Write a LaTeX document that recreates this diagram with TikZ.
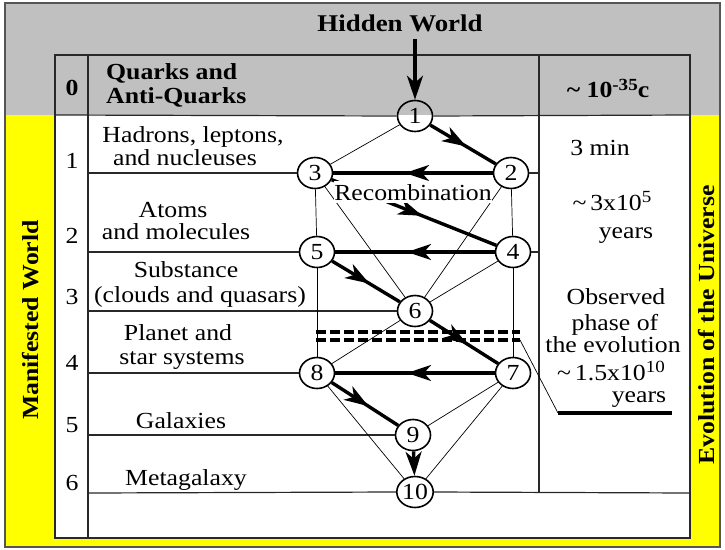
\documentclass[tikz,border=0pt]{standalone}
\usepackage{fontspec}
\setmainfont{Liberation Serif}[FakeStretch=1.12]
\usetikzlibrary{shapes.geometric,arrows.meta,decorations.markings}
\definecolor{bggray}{RGB}{192,192,192}
\definecolor{ylw}{RGB}{255,255,0}
\definecolor{frame}{RGB}{85,85,85}
\definecolor{grid}{RGB}{40,40,40}
\tikzset{
  txt/.style={anchor=base,inner sep=0pt,font=\fontsize{23}{26}\selectfont},
  hd/.style={anchor=base,inner sep=0pt,font=\fontsize{23}{26}\selectfont\bfseries},
  num/.style={draw=black,line width=1.6pt,ellipse,minimum width=35pt,minimum height=31pt,inner sep=0pt,font=\fontsize{23}{23}\selectfont},
  thin/.style={line width=0.7pt,black},
  gridline/.style={line width=1.2pt,grid},
  bigtip/.tip={Stealth[length=24pt,width=16pt,inset=7pt]},
  flow/.style={line width=3.4pt,black,postaction={decorate},
    decoration={markings,mark=at position 0.55 with {\arrow{bigtip}}}},
}
\begin{document}
\begin{tikzpicture}[x=1pt,y=-1pt]
\useasboundingbox (0,0) rectangle (725,549);
% backgrounds
\fill[ylw] (5,3) rectangle (720,547);
\fill[bggray] (5,3) rectangle (720,115);
\fill[white] (55,115) rectangle (690,538);
\draw[frame,line width=2.2pt] (5,3) rectangle (720,547);
% nodes
\node[num] (n1) at (415,116) {1};
\node[num] (n2) at (511,173) {2};
\node[num] (n3) at (315,173) {3};
\node[num] (n4) at (513,252) {4};
\node[num] (n5) at (317,252) {5};
\node[num] (n6) at (415,311) {6};
\node[num] (n7) at (513,373) {7};
\node[num] (n8) at (317,373) {8};
\node[num] (n9) at (413,435) {9};
\node[num] (n10) at (415,492) {10};
% table frame
\coordinate (tl) at (55,55);
\coordinate (br) at (690,538);
\draw[gridline] (tl) rectangle (br);
\draw[gridline] (88,55) -- (88,538);
\draw[gridline] (539,55) -- (539,493);
\draw[gridline] (55,115) -- (n1.west);
\draw[gridline] (n1.east) -- (690,115);
\draw[gridline] (88,173) -- (n3.west);
\draw[gridline] (n2.east) -- (539,173);
\draw[gridline] (88,252) -- (n5.west);
\draw[gridline] (n4.east) -- (539,252);
\draw[gridline] (88,311) -- (n6.west);
\draw[gridline] (88,373) -- (n8.west);
\draw[gridline] (88,435) -- (n9.west);
\draw[gridline] (88,493) -- (n10.west);
\draw[gridline] (n10.east) -- (690,493);
% thin connectors
\draw[thin] (n1) -- (n3);
\draw[thin] (n3) -- (n5);
\draw[thin] (n2) -- (n4);
\draw[thin] (n5) -- (n8);
\draw[thin] (n4) -- (n7);
\draw[thin] (n3) -- (n6);
\draw[thin] (n2) -- (n6);
\draw[thin] (n4) -- (n6);
\draw[thin] (n6) -- (n8);
\draw[thin] (n7) -- (n9);
\draw[thin] (n7) -- (n10);
\draw[thin] (n8) -- (n10);
% thick flow
\draw[flow] (n1) -- (n2);
\draw[flow] (n2) -- (n3);
\draw[flow] (n3) -- (n4);
\draw[flow] (n4) -- (n5);
\draw[flow] (n5) -- (n6);
\draw[flow] (n6) -- (n7);
\draw[flow] (n7) -- (n8);
\draw[flow] (n8) -- (n9);
\draw[line width=3.4pt,-{bigtip}] (n9) -- (n10);
% recombination label
\node[txt,fill=white,inner ysep=3pt] (rec) at (413,200) {Recombination};
% hidden world
\node[hd,font=\fontsize{24}{26}\selectfont\bfseries] (hw) at (400,31) {Hidden World};
\coordinate (hwa) at (415,39);
\draw[line width=3.4pt,-{bigtip}] (hwa) -- (n1.north);
% dashed observed line
\coordinate (d1a) at (316,332);
\coordinate (d1b) at (520,332);
\coordinate (d2a) at (316,340);
\coordinate (d2b) at (520,340);
\coordinate (ua) at (558,413);
\coordinate (ub) at (672,413);
\draw[line width=3.2pt,dash pattern=on 10pt off 4pt] (d1a) -- (d1b);
\draw[line width=3.2pt,dash pattern=on 10pt off 4pt] (d2a) -- (d2b);
\draw[thin] (d2b) -- (ua);
\draw[line width=3.4pt] (ua) -- (ub);
% header row
\node[hd] (r0) at (72,95) {0};
\node[hd,anchor=base west] (q1) at (106,79) {Quarks and};
\node[hd,anchor=base west] (q2) at (106,103) {Anti-Quarks};
\node[hd] (tq) at (608,97) {\textasciitilde\ 10\raisebox{7pt}{\fontsize{17}{17}\selectfont -35}c};
% row numbers
\node[txt] (r1) at (72,168) {1};
\node[txt] (r2) at (72,243) {2};
\node[txt] (r3) at (72,304) {3};
\node[txt] (r4) at (72,370) {4};
\node[txt] (r5) at (72,432) {5};
\node[txt] (r6) at (72,490) {6};
% row texts
\node[txt] (a1) at (193,142) {Hadrons, leptons,};
\node[txt] (a2) at (185,165) {and nucleuses};
\node[txt] (b1) at (173,217) {Atoms};
\node[txt] (b2) at (176,239) {and molecules};
\node[txt] (c1) at (186,277) {Substance};
\node[txt] (c2) at (200,302) {(clouds and quasars)};
\node[txt] (d1) at (178,340) {Planet and};
\node[txt] (d2) at (182,364) {star systems};
\node[txt] (e1) at (181,428) {Galaxies};
\node[txt] (f1) at (186,485) {Metagalaxy};
% right column
\node[txt] (s1) at (600,155) {3 min};
\node[txt] (s2) at (612,210) {\textasciitilde\,3x10\raisebox{8pt}{\fontsize{17}{17}\selectfont 5}};
\node[txt] (s3) at (626,238) {years};
\node[txt] (o1) at (616,304) {Observed};
\node[txt] (o2) at (615,330) {phase of};
\node[txt] (o3) at (613,352) {the evolution};
\node[txt] (o4) at (611,380) {\textasciitilde\,1.5x10\raisebox{8pt}{\fontsize{17}{17}\selectfont 10}};
\node[txt] (o5) at (639,402) {years};
% side labels
\node[font=\fontsize{23}{26}\selectfont\bfseries,rotate=90,inner sep=0pt] (mw) at (31,320) {Manifested World};
\node[font=\fontsize{23}{26}\selectfont\bfseries,rotate=90,inner sep=0pt] (eu) at (707,325) {Evolution of the Universe};
\end{tikzpicture}
\end{document}
